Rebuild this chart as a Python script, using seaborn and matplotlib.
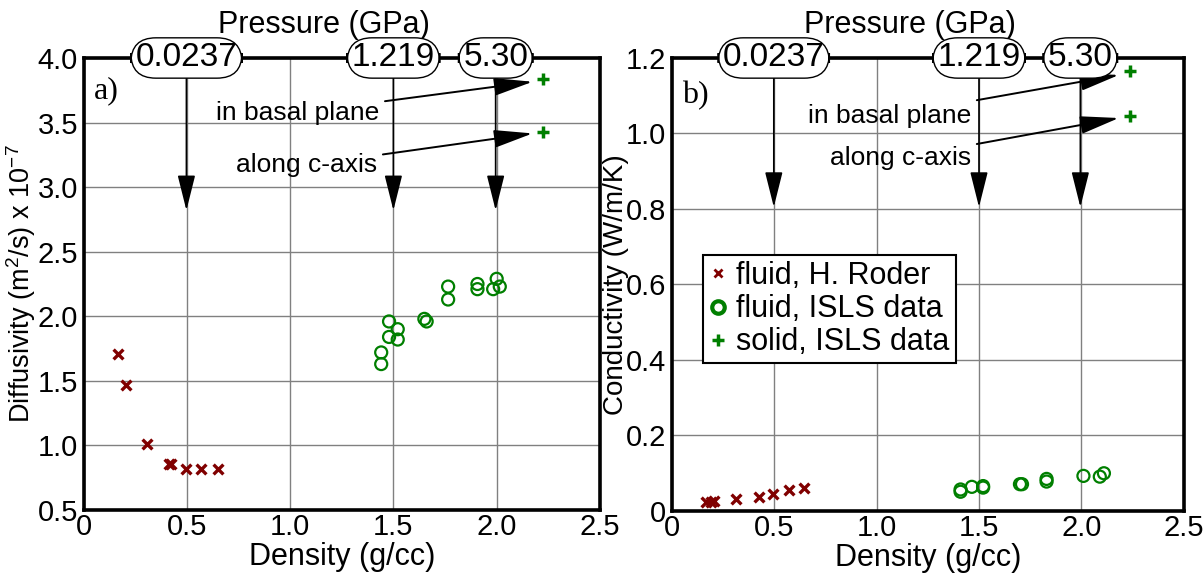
import pandas as pd
import matplotlib
matplotlib.use("Agg")
import matplotlib.pyplot as plt
import seaborn as sns
from matplotlib.lines import Line2D

# --- data ---
# a) diffusivity (x 1e-7 m^2/s) vs density (g/cc)
roder_rho_a = [0.167, 0.206, 0.309, 0.415, 0.425, 0.494, 0.569, 0.650]
roder_diff = [1.71, 1.47, 1.01, 0.86, 0.86, 0.82, 0.82, 0.82]
isls_rho_a = [1.441, 1.441, 1.479, 1.479, 1.521, 1.521, 1.650, 1.661,
              1.765, 1.765, 1.907, 1.907, 1.983, 2.000, 2.015]
isls_diff = [1.72, 1.63, 1.96, 1.84, 1.90, 1.82, 1.98, 1.96,
             2.23, 2.13, 2.25, 2.21, 2.21, 2.29, 2.23]
solid_rho_a = [2.224, 2.224]
solid_diff = [3.835, 3.43]

# b) conductivity (W/m/K) vs density (g/cc)
roder_rho_b = [0.165, 0.190, 0.206, 0.311, 0.425, 0.493, 0.571, 0.647]
roder_cond = [0.025, 0.025, 0.027, 0.031, 0.038, 0.045, 0.055, 0.061]
isls_rho_b = [1.41, 1.41, 1.465, 1.52, 1.52, 1.70, 1.71, 1.83, 1.83, 2.01, 2.09, 2.11]
isls_cond = [0.051, 0.057, 0.064, 0.062, 0.066, 0.071, 0.071, 0.078, 0.085, 0.093, 0.091, 0.100]
solid_rho_b = [2.236, 2.236]
solid_cond = [1.165, 1.047]

# pressure labels on the top axis
press_labels = ["0.0237", "1.219", "5.30"]
press_rho = [0.498, 1.50, 1.995]

xticks = [0, 0.5, 1.0, 1.5, 2.0, 2.5]
xticklabels = ["0", "0.5", "1.0", "1.5", "2.0", "2.5"]
yticks_a = [0.5, 1.0, 1.5, 2.0, 2.5, 3.0, 3.5, 4.0]
yticks_b = [0, 0.2, 0.4, 0.6, 0.8, 1.0, 1.2]
yticklabels_b = ["0", "0.2", "0.4", "0.6", "0.8", "1.0", "1.2"]

RED = "#800000"
GREEN = "#007f00"

sns.set_theme(style="whitegrid")
plt.rcParams["font.family"] = ["Liberation Sans", "DejaVu Sans"]
plt.rcParams["mathtext.fontset"] = "custom"
plt.rcParams["mathtext.rm"] = "Liberation Sans"
plt.rcParams["mathtext.it"] = "Liberation Sans"
plt.rcParams["text.color"] = "black"
plt.rcParams["axes.labelcolor"] = "black"
plt.rcParams["axes.titlecolor"] = "black"

fig = plt.figure(figsize=(12.04, 5.84), dpi=100)
ax1 = fig.add_axes([0.0694, 0.1267, 0.4289, 0.774])
ax2 = fig.add_axes([0.558, 0.125, 0.4252, 0.7757])


def draw_points(ax, rx, ry, ix, iy, sx, sy):
    sns.scatterplot(x=rx, y=ry, ax=ax, marker="x", color=RED, s=50, linewidth=2.4, zorder=4)
    sns.scatterplot(x=ix, y=iy, ax=ax, marker="o", s=75, facecolor="none",
                    edgecolor=GREEN, linewidth=1.6, zorder=4)
    sns.scatterplot(x=sx, y=sy, ax=ax, marker="+", color=GREEN, s=70, linewidth=2.5, zorder=4)


draw_points(ax1, roder_rho_a, roder_diff, isls_rho_a, isls_diff, solid_rho_a, solid_diff)
draw_points(ax2, roder_rho_b, roder_cond, isls_rho_b, isls_cond, solid_rho_b, solid_cond)


def style_axes(ax, ylim, yticks, yticklabels=None):
    ax.set_xlim(0, 2.5)
    ax.set_ylim(*ylim)
    ax.set_xticks(xticks)
    ax.set_xticklabels(xticklabels)
    ax.set_yticks(yticks)
    if yticklabels is not None:
        ax.set_yticklabels(yticklabels)
    ax.grid(True, color="#808080", linewidth=1.0)
    for sp in ax.spines.values():
        sp.set_visible(True)
        sp.set_color("black")
        sp.set_linewidth(2.6)
    ax.tick_params(axis="both", length=0, labelsize=21, colors="black")
    ax.tick_params(axis="y", pad=4)
    ax.tick_params(axis="x", pad=2)
    ax.set_xlabel("Density (g/cc)", fontsize=22, labelpad=1)
    ax.set_facecolor("white")


style_axes(ax1, (0.5, 4.0), yticks_a)
style_axes(ax2, (0, 1.2), yticks_b, yticklabels_b)
ax1.set_ylabel("Diffusivity (m$^2$/s) x 10$^{-7}$", fontsize=19.5, labelpad=0)
ax2.set_ylabel("Conductivity (W/m/K)", fontsize=20, labelpad=-2)


def pressure_header(ax, ytop, tip, start):
    ax.set_title("Pressure (GPa)", fontsize=22, pad=18, x=0.465)
    for lab, x in zip(press_labels, press_rho):
        ax.annotate("", xy=(x, tip), xytext=(x, start),
                    arrowprops=dict(arrowstyle="-|>,head_length=2.2,head_width=0.55",
                                    mutation_scale=10, color="black", lw=1.2,
                                    shrinkA=0, shrinkB=0), zorder=5)
        ax.text(x, ytop, lab, fontsize=24, ha="center", va="center", clip_on=False, zorder=6,
                bbox=dict(boxstyle="round,pad=0.14,rounding_size=0.75", fc="white", ec="black", lw=1.0))


pressure_header(ax1, 4.0, 2.82, 3.95)
pressure_header(ax2, 1.2, 0.805, 1.18)


def side_arrow(ax, text, xt, yt, xh, yh):
    ax.annotate(text, xy=(xh, yh), xytext=(xt, yt), fontsize=19, ha="right", va="center",
                arrowprops=dict(arrowstyle="-|>,head_length=2.4,head_width=0.55",
                                mutation_scale=10, color="black", lw=1.4,
                                shrinkA=2, shrinkB=0), zorder=5)


side_arrow(ax1, "in basal plane", 1.43, 3.576, 2.174, 3.816)
side_arrow(ax1, "along c-axis", 1.42, 3.17, 2.174, 3.416)
side_arrow(ax2, "in basal plane", 1.46, 1.047, 2.183, 1.155)
side_arrow(ax2, "along c-axis", 1.46, 0.935, 2.183, 1.041)

ax1.text(0.05, 3.745, "a)", fontsize=23, family="Liberation Serif", va="center")
ax2.text(0.05, 1.10, "b)", fontsize=23, family="Liberation Serif", va="center")

handles = [
    Line2D([], [], marker="x", ls="none", color=RED, markersize=6, mew=2),
    Line2D([], [], marker="o", ls="none", mfc="none", mec=GREEN, markersize=9, mew=3),
    Line2D([], [], marker="+", ls="none", color=GREEN, markersize=8, mew=2.5),
]
labels = ["fluid, H. Roder", "fluid, ISLS data", "solid, ISLS data"]
leg = ax2.legend(handles, labels, loc="upper left", bbox_to_anchor=(0.06, 0.565),
                 fontsize=22, frameon=True, fancybox=False, framealpha=1,
                 handlelength=0.6, handletextpad=0.3, borderpad=0.2, labelspacing=0.1,
                 borderaxespad=0)
leg.get_frame().set_edgecolor("black")
leg.get_frame().set_linewidth(1.5)

fig.savefig("out.png", dpi=100, facecolor="white")
